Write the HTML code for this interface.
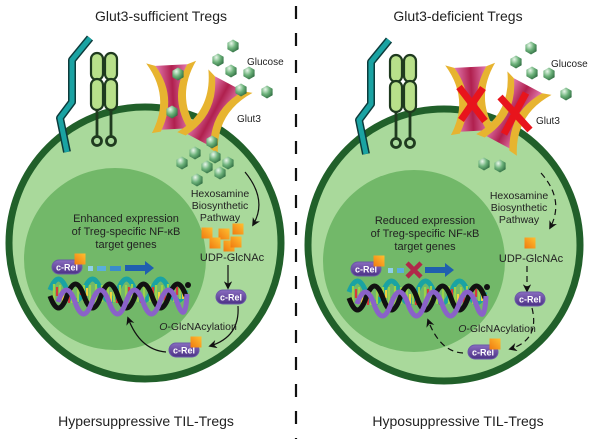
<!DOCTYPE html>
<html><head><meta charset="utf-8"><style>
html,body{margin:0;padding:0;background:#fff;}
svg{display:block;}
text{font-family:"Liberation Sans",Arial,sans-serif;fill:#222;}
</style></head><body>
<svg width="600" height="439" viewBox="0 0 600 439" xmlns="http://www.w3.org/2000/svg">
<defs>
<radialGradient id="hex" cx="0.35" cy="0.3" r="0.85"><stop offset="0" stop-color="#e9f7ea"/><stop offset="0.45" stop-color="#6cb27a"/><stop offset="1" stop-color="#1f5a32"/></radialGradient>
<linearGradient id="pink" x1="0" y1="0" x2="1" y2="0"><stop offset="0" stop-color="#e27ab0"/><stop offset="0.5" stop-color="#b0204e"/><stop offset="1" stop-color="#e27ab0"/></linearGradient>
<linearGradient id="sq" x1="0" y1="1" x2="1" y2="0"><stop offset="0" stop-color="#f07a10"/><stop offset="1" stop-color="#ffc030"/></linearGradient>
<linearGradient id="pill" x1="0" y1="0" x2="0" y2="1"><stop offset="0" stop-color="#8a6cc0"/><stop offset="1" stop-color="#4b3185"/></linearGradient>
<g id="h"><polygon points="0,-6.5 5.6,-3.2 5.6,3.2 0,6.5 -5.6,3.2 -5.6,-3.2" fill="url(#hex)"/></g>
<g id="s"><rect x="-5.5" y="-5.5" width="11" height="11" fill="url(#sq)"/></g>
<g id="tr">
<path d="M-16,-32 Q2,0 -14,32 L16,32 Q-2,0 16,-32 Z" fill="url(#pink)"/>
<path d="M-25,-35 Q-2,0 -23,35 L-14,34 Q5,0 -16,-32 Z" fill="#e7b430"/>
<path d="M25,-35 Q2,0 23,35 L14,34 Q-5,0 16,-32 Z" fill="#e7b430"/>
</g>
<g id="pl"><rect x="-15" y="-7" width="30" height="14" rx="7" fill="url(#pill)" stroke="#6a5aa8" stroke-width="1"/><text x="0" y="3.5" text-anchor="middle" font-size="9" font-weight="bold" style="fill:#fff">c-Rel</text></g>
<g id="dna">
<path d="M50,290 q8.5,-22 17,0 t17,0 t17,0 t17,0 t17,0 t17,0 t17,0 t17,0" fill="none" stroke="#1aa3a3" stroke-width="5"/>
<g stroke-width="2.2">
<path d="M54,284v18M60,285v18M66,288v14M72,285v18M78,284v18M84,285v17M90,285v18M96,284v18M102,285v17M108,285v18M114,284v18M120,285v17M126,285v18M132,284v18M138,285v17M144,285v18M150,284v18M156,285v17M162,285v18M168,284v18M174,285v17M180,285v14" stroke="#9bd24a"/>
<path d="M57,287v9M69,294v9M81,287v8M93,295v8M105,287v9M117,294v9M129,287v8M141,295v8M153,287v9M165,294v9M177,287v8" stroke="#d83a3a"/>
<path d="M63,292v10M87,288v8M111,292v10M135,288v8M159,292v10M183,291v8" stroke="#f0d040"/>
</g>
<path d="M50,296 q8.5,24 17,0 t17,0 t17,0 t17,0 t17,0 t17,0 t17,0 t17,0" fill="none" stroke="#111" stroke-width="5"/>
<path d="M58,302 q8.5,-24 17,0 t17,0 t17,0 t17,0 t17,0 t17,0 t17,0 t10,-8" fill="none" stroke="#8a62c8" stroke-width="5"/>
<circle cx="188" cy="285" r="3" fill="#111"/>
</g>
<g id="base">
<circle cx="0" cy="0" r="136" fill="#a9d99b" stroke="#21602a" stroke-width="7"/>
<circle cx="-30" cy="16" r="91" fill="#72b869"/>
<path d="M-55,-205 L-73,-183 L-73,-141 L-85,-125 L-78,-91" fill="none" stroke="#0d3b3b" stroke-width="8" stroke-linejoin="round"/>
<path d="M-55,-205 L-73,-183 L-73,-141 L-85,-125 L-78,-91" fill="none" stroke="#1aa3a3" stroke-width="5" stroke-linejoin="round"/>
<g fill="#b8e08a" stroke="#1f3a1f" stroke-width="2.2">
<rect x="-54" y="-190" width="12" height="27" rx="6"/><rect x="-40" y="-190" width="12" height="27" rx="6"/>
<rect x="-54" y="-164" width="12" height="31" rx="6"/><rect x="-40" y="-164" width="12" height="31" rx="6"/>
</g>
<path d="M-48,-133v28M-34,-133v28" stroke="#1f3a1f" stroke-width="2.8"/>
<circle cx="-48" cy="-102" r="4.5" fill="none" stroke="#1f3a1f" stroke-width="2.8"/>
<circle cx="-34" cy="-102" r="4.5" fill="none" stroke="#1f3a1f" stroke-width="2.8"/>
</g>
<marker id="ar" viewBox="0 0 10 10" refX="8" refY="5" markerWidth="7" markerHeight="7" orient="auto"><path d="M0,0 L10,5 L0,10 L3,5 Z" fill="#111"/></marker>
</defs>

<text x="161" y="21" text-anchor="middle" font-size="14">Glut3-sufficient Tregs</text>
<text x="458" y="21" text-anchor="middle" font-size="14">Glut3-deficient Tregs</text>
<text x="146" y="426" text-anchor="middle" font-size="14">Hypersuppressive TIL-Tregs</text>
<text x="458" y="426" text-anchor="middle" font-size="14">Hyposuppressive TIL-Tregs</text>
<line x1="296" y1="6" x2="296" y2="439" stroke="#111" stroke-width="2.2" stroke-dasharray="13,14"/>

<!-- LEFT -->
<use href="#base" x="145" y="243"/>
<use href="#tr" transform="translate(173,97) rotate(-3)"/>
<use href="#tr" transform="translate(214,112) rotate(28)"/>
<g>
<use href="#h" x="233" y="46"/><use href="#h" x="218" y="60"/><use href="#h" x="231" y="71"/><use href="#h" x="249" y="73"/>
<use href="#h" x="241" y="90"/><use href="#h" x="267" y="92"/><use href="#h" x="178" y="74"/><use href="#h" x="172" y="112"/>
<use href="#h" x="212" y="142"/><use href="#h" x="195" y="153"/><use href="#h" x="215" y="157"/><use href="#h" x="228" y="163"/>
<use href="#h" x="182" y="163"/><use href="#h" x="207" y="167"/><use href="#h" x="220" y="173"/><use href="#h" x="197" y="180"/>
</g>
<text x="247" y="65" font-size="10">Glucose</text>
<text x="237" y="122" font-size="10">Glut3</text>
<text x="220" y="197" text-anchor="middle" font-size="10.5">Hexosamine</text>
<text x="220" y="209" text-anchor="middle" font-size="10.5">Biosynthetic</text>
<text x="220" y="221" text-anchor="middle" font-size="10.5">Pathway</text>
<path d="M245,172 Q268,200 253,225" fill="none" stroke="#111" stroke-width="1.2" marker-end="url(#ar)"/>
<use href="#s" x="207" y="233"/><use href="#s" x="224" y="234"/><use href="#s" x="238" y="229"/><use href="#s" x="215" y="243"/><use href="#s" x="229" y="246"/><use href="#s" x="236" y="242"/>
<text x="232" y="261" text-anchor="middle" font-size="11">UDP-GlcNAc</text>
<path d="M228,265 L228,288" stroke="#111" stroke-width="1.2" marker-end="url(#ar)"/>
<use href="#pl" x="231" y="297"/>
<path d="M238,306 Q240,337 210,346" fill="none" stroke="#111" stroke-width="1.2" marker-end="url(#ar)"/>
<text x="198" y="330" text-anchor="middle" font-size="10.5"><tspan font-style="italic">O</tspan>-GlcNAcylation</text>
<use href="#pl" x="184" y="350"/><use href="#s" x="196" y="342"/>
<path d="M166,352 Q140,350 128,318" fill="none" stroke="#111" stroke-width="1.2" marker-end="url(#ar)"/>
<text x="126" y="222" text-anchor="middle" font-size="11">Enhanced expression</text>
<text x="126" y="235" text-anchor="middle" font-size="11">of Treg-specific NF-κB</text>
<text x="126" y="248" text-anchor="middle" font-size="11">target genes</text>
<use href="#pl" x="67" y="267"/><use href="#s" x="80" y="259"/>
<rect x="88" y="266" width="5" height="5" fill="#8fd0ea"/><rect x="97" y="266" width="9" height="5" fill="#5aaedc"/><rect x="110" y="266" width="11" height="5" fill="#3a8ccc"/><rect x="125" y="265" width="20" height="6" fill="#1f5faf"/>
<polygon points="145,261 154,268 145,275" fill="#1f5faf"/>
<use href="#dna"/>

<!-- RIGHT -->
<use href="#base" x="444" y="245"/>
<use href="#tr" transform="translate(472,99) rotate(-3)"/>
<use href="#tr" transform="translate(513,114) rotate(28)"/>
<g stroke="#e8141c" stroke-width="7" stroke-linecap="butt">
<path d="M459,87 L485,121M483,88 L461,120"/>
<path d="M500,97 L530,130M526,93 L504,134"/>
</g>
<use href="#h" x="531" y="48"/><use href="#h" x="516" y="62"/><use href="#h" x="532" y="73"/><use href="#h" x="549" y="74"/><use href="#h" x="566" y="94"/>
<use href="#h" x="484" y="164"/><use href="#h" x="500" y="166"/>
<text x="551" y="67" font-size="10">Glucose</text>
<text x="536" y="124" font-size="10">Glut3</text>
<text x="519" y="199" text-anchor="middle" font-size="10.5">Hexosamine</text>
<text x="519" y="211" text-anchor="middle" font-size="10.5">Biosynthetic</text>
<text x="519" y="223" text-anchor="middle" font-size="10.5">Pathway</text>
<path d="M541,173 Q565,200 550,228" fill="none" stroke="#111" stroke-width="1.2" stroke-dasharray="6,4" marker-end="url(#ar)"/>
<use href="#s" x="530" y="243"/>
<text x="531" y="262" text-anchor="middle" font-size="11">UDP-GlcNAc</text>
<path d="M527,266 L527,291" stroke="#111" stroke-width="1.2" stroke-dasharray="6,4" marker-end="url(#ar)"/>
<use href="#pl" x="530" y="299"/>
<path d="M532,308 Q540,340 510,349" fill="none" stroke="#111" stroke-width="1.2" stroke-dasharray="6,4" marker-end="url(#ar)"/>
<text x="497" y="332" text-anchor="middle" font-size="10.5"><tspan font-style="italic">O</tspan>-GlcNAcylation</text>
<use href="#pl" x="483" y="352"/><use href="#s" x="495" y="344"/>
<path d="M463,353 Q440,352 428,320" fill="none" stroke="#111" stroke-width="1.2" stroke-dasharray="6,4" marker-end="url(#ar)"/>
<text x="425" y="224" text-anchor="middle" font-size="11">Reduced expression</text>
<text x="425" y="237" text-anchor="middle" font-size="11">of Treg-specific NF-κB</text>
<text x="425" y="250" text-anchor="middle" font-size="11">target genes</text>
<use href="#pl" x="366" y="269"/><use href="#s" x="379" y="261"/>
<rect x="388" y="268" width="5" height="5" fill="#8fd0ea"/><rect x="397" y="268" width="7" height="5" fill="#5aaedc"/>
<path d="M407,263 L421,277M421,263 L407,277" stroke="#b0284a" stroke-width="4.5"/>
<rect x="425" y="267" width="20" height="6" fill="#1f5faf"/><polygon points="445,263 454,270 445,277" fill="#1f5faf"/>
<use href="#dna" x="299" y="2"/>
</svg>
</body></html>
